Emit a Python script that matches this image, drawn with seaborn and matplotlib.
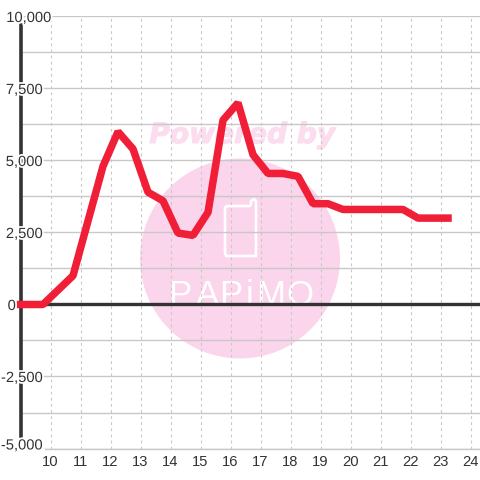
#!/usr/bin/env python3
"""Daily hourly line chart with a pale watermark behind the grid."""

import matplotlib
matplotlib.use('Agg')
import matplotlib.pyplot as plt
import matplotlib.patheffects as pe
from matplotlib.patches import Circle, PathPatch
from matplotlib.path import Path
import pandas as pd
import seaborn as sns

# ── Data ───────────────────────────────────────────────────────────────────
hours = [9.0, 9.75, 10.75, 11.75, 12.25, 12.75, 13.25, 13.75, 14.25, 14.75,
         15.25, 15.75, 16.25, 16.75, 17.25, 17.75, 18.25, 18.75, 19.25, 19.75,
         20.25, 20.75, 21.25, 21.75, 22.25, 22.75, 23.25]
values = [0, 0, 1000, 4800, 6000, 5400, 3900, 3600, 2480, 2400,
          3200, 6400, 7000, 5200, 4550, 4550, 4450, 3500, 3500, 3300,
          3300, 3300, 3300, 3300, 3000, 3000, 3000]
x_ticks = list(range(10, 25))
y_ticks = [-5000, -2500, 0, 2500, 5000, 7500, 10000]
y_tick_labels = ['-5,000', '-2,500', '0', '2,500', '5,000', '7,500', '10,000']
y_minor = [-3750, -1250, 1250, 3750, 6250, 8750]

# ── Style ──────────────────────────────────────────────────────────────────
DARK = '#333333'
GRID = '#c8c8c8'
RED = '#f01e37'
PINK = '#fbd5ec'

sns.set_theme(style="white")
plt.rcParams['font.family'] = ['Liberation Sans', 'DejaVu Sans']

W = H = 480
fig = plt.figure(figsize=(W / 100, H / 100), dpi=100, facecolor='white')
ax = fig.add_axes([20.5 / W, 1 - 448.5 / H, (W - 20.5) / W, 432 / H])
ax.set_facecolor('none')
ax.set_xlim(9, 9 + (W - 20.5) / 30)
ax.set_ylim(-5000, 10000)

# watermark, in figure pixels
fig.add_artist(Circle((240 / W, 1 - 258.5 / H), 100 / W, color=PINK, lw=0, zorder=-3))
fig.text(242 / W, 1 - 135 / H, 'Powered by', ha='center', va='center', color='#fcdcef',
         family='DejaVu Sans', fontweight='bold', fontstyle='italic', fontsize=20.2, zorder=-2,
         path_effects=[pe.withStroke(linewidth=0.8, foreground='#fcdcef')])

# phone outline with its little aerial
px = [(231, 206), (248, 206), (250, 206), (251, 204), (251, 201), (254, 199), (256, 201),
      (256, 201), (256, 253), (256, 256), (253, 256), (230, 256), (226, 256), (225, 253),
      (225, 210), (225, 207), (228, 206), (231, 206)]
phone = Path([(x / W, 1 - y / H) for x, y in px])
fig.add_artist(PathPatch(phone, fill=False, ec='white', lw=1.9, zorder=-2,
                         transform=fig.transFigure, joinstyle='round'))

for ch, xc in zip('PAPiMO', [180, 207, 231, 249, 271, 300]):
    fig.text(xc / W, 1 - 305 / H, ch, ha='center', va='baseline', color='white',
             family='Liberation Sans', fontsize=25, zorder=-2)

# grid
ax.set_xticks(x_ticks)
ax.set_yticks(y_ticks + y_minor)
ax.set_yticklabels([])
ax.set_xticklabels([str(h) for h in x_ticks], fontsize=10.6, color=DARK)
ax.tick_params(axis='both', length=0, pad=5)
ax.grid(axis='y', color=GRID, lw=1.0)
ax.grid(axis='x', color=GRID, lw=0.8, ls=(0, (2.5, 3)))
ax.set_axisbelow(True)

for name in ['top', 'right']:
    ax.spines[name].set_visible(False)
ax.spines['bottom'].set_color(GRID)
ax.spines['bottom'].set_linewidth(1.0)
ax.spines['bottom'].set_bounds(9.8, ax.get_xlim()[1])
ax.spines['left'].set_color(DARK)
ax.spines['left'].set_linewidth(2.6)
ax.spines['left'].set_bounds(-4580, 9720)
ax.axhline(0, color=DARK, lw=2.4, zorder=2)

# main line
df = pd.DataFrame({'hour': hours, 'value': values})
sns.lineplot(data=df, x='hour', y='value', ax=ax, color=RED, linewidth=5.4, zorder=3,
             solid_joinstyle='bevel', solid_capstyle='projecting', errorbar=None,
             clip_on=False)
ax.set_xlabel('')
ax.set_ylabel('')

# y labels sit on the axis, with a white halo that breaks it
label_px = {'-5,000': (43, 4.5), '-2,500': (43, 0), '0': (16, 0), '2,500': (43, 0),
            '5,000': (43, 0), '7,500': (43, 0), '10,000': (52, 0)}
for val, lab in zip(y_ticks, y_tick_labels):
    xpx, up = label_px[lab]
    ax.annotate(lab, xy=(0, val), xycoords=ax.get_yaxis_transform(),
                xytext=(xpx / W, up * 0.72), textcoords=('figure fraction', 'offset points'),
                ha='right', va='center_baseline', fontsize=10.6, color=DARK, zorder=4,
                path_effects=[pe.withStroke(linewidth=2.5, foreground='white')])

plt.savefig('out.png', dpi=100)
plt.close()
